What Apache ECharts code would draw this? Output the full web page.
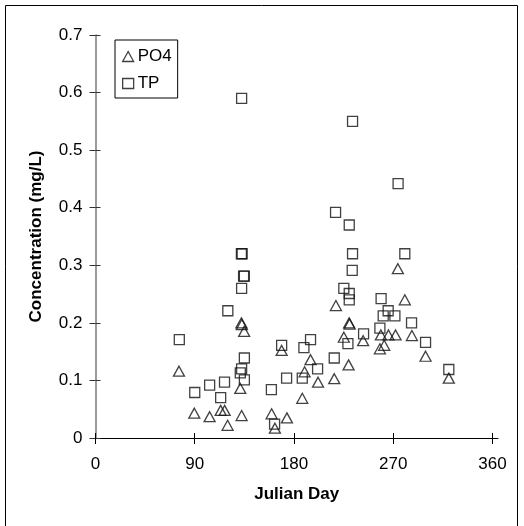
<!DOCTYPE html>
<html>
<head>
<meta charset="utf-8">
<script src="https://cdn.jsdelivr.net/npm/echarts@6/dist/echarts.min.js"></script>
<style>
html,body{margin:0;padding:0;background:#fff;}
#chart{width:524px;height:526px;}
</style>
</head>
<body>
<div id="chart"></div>
<script>
// Data (Julian day, concentration mg/L)
const po4Day = [75.7, 89.6, 103.5, 113.5, 117.1, 119.8, 132.3, 132.7, 134.8, 131.3, 132.5, 159.7, 162.7, 168.8, 173.6, 187.5, 189.6, 195, 201.8, 216.5, 218, 225.2, 229.5, 230, 230.4, 242.7, 257.9, 258.8, 261.8, 265.7, 272.1, 274.2, 280.5, 286.9, 299.3, 320.4];
const po4Val = [0.116, 0.043, 0.037, 0.048, 0.048, 0.022, 0.200, 0.197, 0.185, 0.086, 0.039, 0.042, 0.017, 0.152, 0.035, 0.069, 0.115, 0.136, 0.097, 0.103, 0.230, 0.175, 0.127, 0.200, 0.198, 0.169, 0.155, 0.179, 0.161, 0.179, 0.179, 0.294, 0.240, 0.178, 0.142, 0.104];
const tpDay = [76, 90, 103.5, 113.5, 117, 120, 132.5, 132.3, 133, 134.3, 135, 132.5, 135, 132.5, 131.3, 135, 159.5, 162.4, 168.8, 173.3, 187.5, 189, 195, 201.4, 216.5, 217.7, 225.2, 230.1, 233.1, 232.8, 230.1, 230.1, 228.9, 233.1, 243.1, 257.9, 259, 260.9, 265.4, 271.5, 274.4, 280.5, 286.6, 299.3, 320.4];
const tpVal = [0.171, 0.079, 0.092, 0.070, 0.097, 0.221, 0.590, 0.320, 0.320, 0.281, 0.281, 0.260, 0.139, 0.120, 0.113, 0.101, 0.084, 0.024, 0.161, 0.104, 0.104, 0.157, 0.171, 0.120, 0.139, 0.392, 0.260, 0.370, 0.320, 0.291, 0.251, 0.240, 0.164, 0.550, 0.181, 0.191, 0.242, 0.212, 0.221, 0.212, 0.442, 0.320, 0.200, 0.166, 0.119];
const xTicks = [0, 90, 180, 270, 360];
const yTicks = [0, 0.1, 0.2, 0.3, 0.4, 0.5, 0.6, 0.7];
const seriesNames = ['PO4', 'TP'];
const xTitle = 'Julian Day';
const yTitle = 'Concentration (mg/L)';

const pair = (xs, ys) => xs.map((x, i) => [x, ys[i]]);
const FONT = '"Liberation Sans", Arial, sans-serif';
const chart = echarts.init(document.getElementById('chart'), null, {renderer: 'canvas'});

const grid = {left: 95.5, right: 26, top: 35, bottom: 88};
const xBase = {type: 'value', min: 0, max: 365, gridIndex: 0, position: 'bottom', splitLine: {show: false}};
const yBase = {type: 'value', min: 0, max: 0.7, interval: 0.1, gridIndex: 0, position: 'left', splitLine: {show: false}};
const hollow = {color: 'rgba(0,0,0,0)', borderColor: '#111', borderWidth: 1.3};

chart.setOption({
  animation: false,
  backgroundColor: '#fff',
  textStyle: {fontFamily: FONT},
  grid: grid,
  graphic: [{
    type: 'rect', silent: true,
    shape: {x: 5.5, y: 5.5, width: 512, height: 530},
    style: {fill: 'none', stroke: '#000', lineWidth: 1}
  }],
  legend: {
    orient: 'vertical', left: 115, top: 40,
    padding: [8, 6, 6, 7], itemGap: 10,
    itemWidth: 11, itemHeight: 10,
    borderColor: '#000', borderWidth: 1,
    backgroundColor: '#fff',
    itemStyle: hollow,
    textStyle: {fontFamily: FONT, fontSize: 17, color: '#000', padding: [0, 0, 0, -1]},
    data: [
      {name: seriesNames[0], icon: 'triangle', itemStyle: hollow},
      {name: seriesNames[1], icon: 'rect', itemStyle: hollow}
    ]
  },
  xAxis: [
    Object.assign({}, xBase, {
      name: xTitle, nameLocation: 'middle', nameGap: 48,
      nameTextStyle: {fontFamily: FONT, fontSize: 17, fontWeight: 'bold', color: '#000'},
      axisLine: {show: true, onZero: false, lineStyle: {color: '#000', width: 1}},
      axisTick: {show: true, inside: false, length: 6, customValues: xTicks, lineStyle: {color: '#000'}},
      axisLabel: {show: true, margin: 18, customValues: xTicks, fontFamily: FONT, fontSize: 17, color: '#000'}
    }),
    Object.assign({}, xBase, {
      axisLine: {show: false, onZero: false},
      axisTick: {show: true, inside: true, length: 5, customValues: xTicks, lineStyle: {color: '#000'}},
      axisLabel: {show: false}
    })
  ],
  yAxis: [
    Object.assign({}, yBase, {
      name: yTitle, nameLocation: 'middle', nameGap: 51,
      nameTextStyle: {fontFamily: FONT, fontSize: 17, fontWeight: 'bold', color: '#000'},
      axisLine: {show: true, onZero: false, lineStyle: {color: '#7a7a7a', width: 1.5}},
      axisTick: {show: true, inside: false, length: 6, lineStyle: {color: '#333'}},
      axisLabel: {show: true, margin: 13, fontFamily: FONT, fontSize: 17, color: '#000',
        formatter: v => (Math.round(v * 10) / 10).toString()}
    }),
    Object.assign({}, yBase, {
      axisLine: {show: false, onZero: false},
      axisTick: {show: true, inside: true, length: 5, lineStyle: {color: '#333'}},
      axisLabel: {show: false}
    })
  ],
  series: [
    {
      name: seriesNames[0], type: 'scatter', xAxisIndex: 0, yAxisIndex: 0,
      symbol: 'triangle', symbolSize: [11, 10],
      itemStyle: hollow,
      data: pair(po4Day, po4Val), z: 3
    },
    {
      name: seriesNames[1], type: 'scatter', xAxisIndex: 0, yAxisIndex: 0,
      symbol: 'rect', symbolSize: 10,
      itemStyle: hollow,
      data: pair(tpDay, tpVal), z: 4
    }
  ]
});
</script>
</body>
</html>
